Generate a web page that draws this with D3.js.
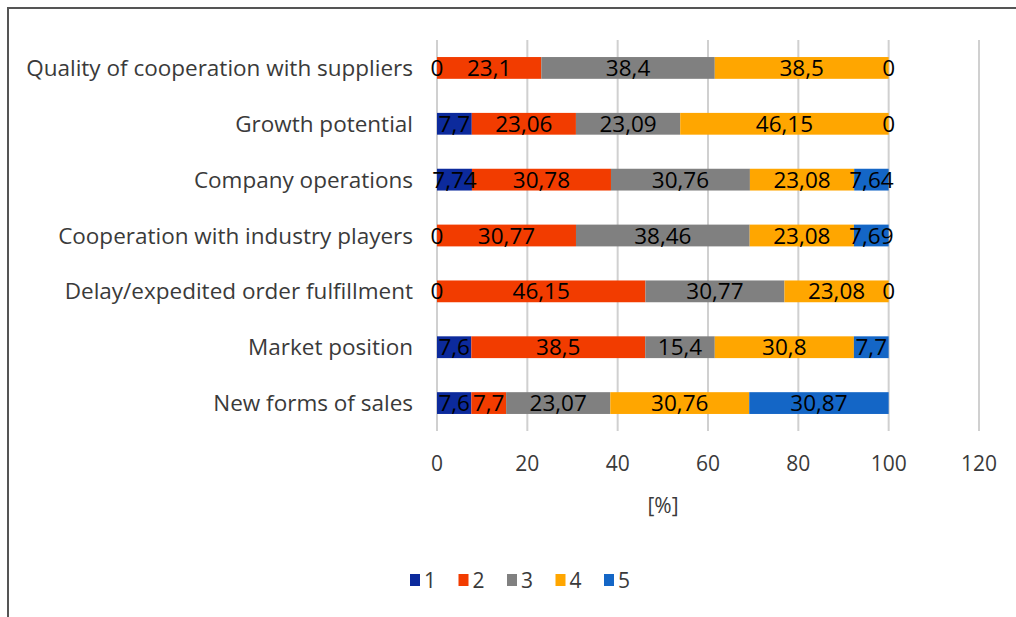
<!DOCTYPE html>
<html>
<head>
<meta charset="utf-8">
<script src="https://cdn.jsdelivr.net/npm/d3@7"></script>
<style>
  html, body { margin: 0; padding: 0; background: #fff; }
  svg { display: block; }
  text { font-family: "Open Sans", sans-serif; }
</style>
</head>
<body>
<svg id="chart" width="1016" height="617"></svg>
<script>
// Categories, top row first
const categories = [
  "Quality of cooperation with suppliers",
  "Growth potential",
  "Company operations",
  "Cooperation with industry players",
  "Delay/expedited order fulfillment",
  "Market position",
  "New forms of sales"
];
const seriesNames = ["1", "2", "3", "4", "5"];
// Share of answers (%) per rating, one array per rating
const s1 = [0, 7.7, 7.74, 0, 0, 7.6, 7.6];
const s2 = [23.1, 23.06, 30.78, 30.77, 46.15, 38.5, 7.7];
const s3 = [38.4, 23.09, 30.76, 38.46, 30.77, 15.4, 23.07];
const s4 = [38.5, 46.15, 23.08, 23.08, 23.08, 30.8, 30.76];
const s5 = [0, 0, 7.64, 7.69, 0, 7.7, 30.87];
const seriesValues = [s1, s2, s3, s4, s5];
const xTicks = [0, 20, 40, 60, 80, 100, 120];
const colors = ["#0c2a9c", "#f23c00", "#808080", "#ffa600", "#1466c6"];

const svg = d3.select("#chart");

// Frame
svg.append("path")
  .attr("d", "M8,617 L8,8 L1016,8")
  .attr("fill", "none").attr("stroke", "#555").attr("stroke-width", 2);

const x = d3.scaleLinear().domain([0, 120]).range([437, 979]);
const y = d3.scaleBand().domain(categories).range([40, 431]).paddingInner(0.61).paddingOuter(0.305);

// Gridlines
svg.append("g").selectAll("line").data(xTicks).join("line")
  .attr("x1", d => x(d)).attr("x2", d => x(d))
  .attr("y1", 40).attr("y2", 431)
  .attr("stroke", "#d0d0d0").attr("stroke-width", 2);

// Stack data
const rows = categories.map((c, i) => {
  const o = { cat: c };
  seriesNames.forEach((s, k) => o[s] = seriesValues[k][i]);
  return o;
});
const stacked = d3.stack().keys(seriesNames)(rows);

const layers = svg.append("g").selectAll("g").data(stacked).join("g")
  .attr("fill", (d, k) => colors[k]);
layers.selectAll("rect").data(d => d).join("rect")
  .attr("x", d => x(d[0]))
  .attr("width", d => x(d[1]) - x(d[0]))
  .attr("y", d => y(d.data.cat))
  .attr("height", y.bandwidth());

// Value labels
const fmt = v => String(v).replace(".", ",");
const labels = svg.append("g");
stacked.forEach((layer, k) => {
  labels.selectAll(null).data(layer).join("text")
    .attr("x", d => x((d[0] + d[1]) / 2))
    .attr("y", d => y(d.data.cat) + y.bandwidth() / 2)
    .attr("dy", "0.36em")
    .attr("text-anchor", "middle")
    .attr("font-size", 22.5)
    .attr("fill", "#000")
    .text(d => fmt(d.data[seriesNames[k]]));
});

// Category labels
svg.append("g").selectAll("text").data(categories).join("text")
  .attr("x", 413)
  .attr("y", d => y(d) + y.bandwidth() / 2)
  .attr("dy", "0.36em")
  .attr("text-anchor", "end")
  .attr("font-size", 22.5)
  .attr("fill", "#3a3a3a")
  .text(d => d);

// X axis tick labels
svg.append("g").selectAll("text").data(xTicks).join("text")
  .attr("x", d => x(d))
  .attr("y", 463)
  .attr("dy", "0.36em")
  .attr("text-anchor", "middle")
  .attr("font-size", 21)
  .attr("fill", "#3a3a3a")
  .text(d => d);

svg.append("text")
  .attr("x", 663).attr("y", 505).attr("dy", "0.36em")
  .attr("text-anchor", "middle").attr("font-size", 21).attr("fill", "#3a3a3a")
  .text("[%]");

// Legend
const legend = svg.append("g");
const lx = d3.scalePoint().domain(seriesNames).range([410, 604]);
const items = legend.selectAll("g").data(seriesNames).join("g")
  .attr("transform", d => `translate(${lx(d)},580)`);
items.append("rect")
  .attr("x", 0).attr("y", -6).attr("width", 10).attr("height", 12)
  .attr("fill", (d, k) => colors[k]);
items.append("text")
  .attr("x", 14).attr("y", 0).attr("dy", "0.36em")
  .attr("font-size", 21).attr("fill", "#3a3a3a")
  .text(d => d);
</script>
</body>
</html>
